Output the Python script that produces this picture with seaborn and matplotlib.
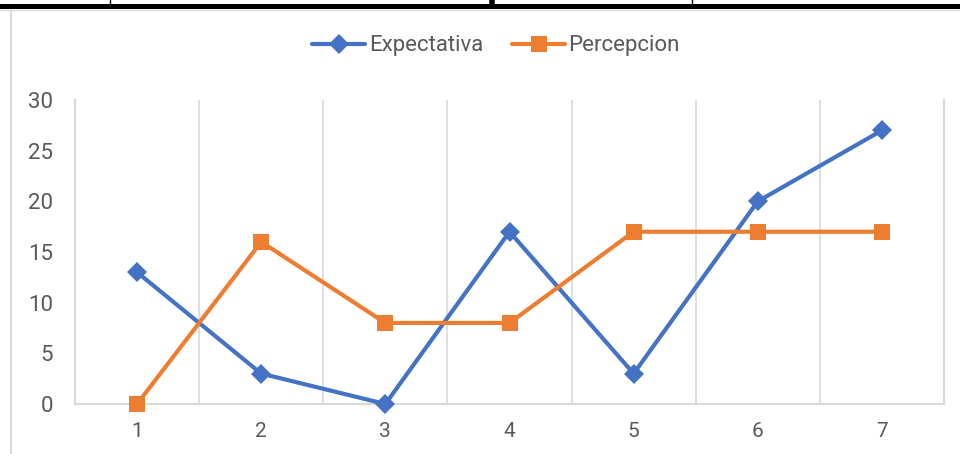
import pandas as pd
import matplotlib.pyplot as plt
import seaborn as sb
from matplotlib.lines import Line2D
from matplotlib.patches import Rectangle

# values
categorias = [1, 2, 3, 4, 5, 6, 7]
expectativa = [13, 3, 0, 17, 3, 20, 27]
percepcion = [0, 16, 8, 8, 17, 17, 17]
series = ['Expectativa', 'Percepcion']
colores = ['#4472C4', '#ED7D31']
marcadores = ['D', 's']

sb.set_style('white')
plt.rcParams['font.family'] = ['Roboto', 'DejaVu Sans']

datos = pd.DataFrame({
    'x': categorias * 2,
    'valor': expectativa + percepcion,
    'serie': [series[0]] * len(categorias) + [series[1]] * len(categorias),
})

fig = plt.figure(figsize=(9.6, 4.54), dpi=100)
W, H = 960, 454
ax = fig.add_axes([75 / W, 1 - 404 / H, (944 - 75) / W, (404 - 100) / H])

for nombre, color, marca, ms in zip(series, colores, marcadores, [10, 12]):
    sub = datos[datos['serie'] == nombre]
    sb.lineplot(data=sub, x='x', y='valor', ax=ax, color=color, marker=marca,
                markersize=ms, markeredgewidth=0, linewidth=3.0, label=nombre,
                clip_on=False, zorder=3)

ax.set_xlim(0.5, 7.5)
ax.set_ylim(0, 30)
ax.set_yticks(range(0, 31, 5))
ax.set_xticks(categorias)
ax.set_xlabel('')
ax.set_ylabel('')

# category separators like Excel gridlines
for xb in [1.5, 2.5, 3.5, 4.5, 5.5, 6.5]:
    ax.axvline(xb, color='#D9D9D9', linewidth=1.2, zorder=1)

ax.spines['top'].set_visible(False)
for lado in ['left', 'right', 'bottom']:
    ax.spines[lado].set_color('#D9D9D9')
    ax.spines[lado].set_linewidth(1.5)

ax.tick_params(axis='both', length=0, colors='#595959')
ax.tick_params(axis='y', labelsize=16, pad=16)
ax.tick_params(axis='x', labelsize=15, pad=13)

ax.legend(loc='center', bbox_to_anchor=(496 / W, 1 - 46 / H),
          bbox_transform=fig.transFigure, ncol=2, frameon=False,
          fontsize=16, labelcolor='#595959', handlelength=2.4,
          columnspacing=1.3, handletextpad=0.15)

# table borders at the top and left of the picture
fig.add_artist(Rectangle((0, 1 - 9 / H), 1, 5 / H, transform=fig.transFigure,
                         color='black', lw=0))
fig.add_artist(Line2D([0, 1], [1 - 10 / H] * 2, transform=fig.transFigure,
                      color='#D9D9D9', lw=1))
fig.add_artist(Line2D([11 / W] * 2, [0, 1 - 10 / H], transform=fig.transFigure,
                      color='#D9D9D9', lw=1.5))
for xp, grosor in [(110, 1), (492, 4), (692, 1)]:
    fig.add_artist(Line2D([xp / W] * 2, [1 - 5 / H, 1], transform=fig.transFigure,
                          color='black', lw=grosor))

fig.savefig('out.png', dpi=100)
